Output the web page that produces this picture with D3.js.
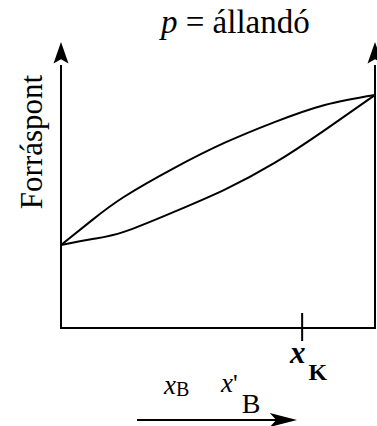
<!DOCTYPE html>
<html>
<head>
<meta charset="utf-8">
<script src="https://cdn.jsdelivr.net/npm/d3@7"></script>
</head>
<body style="margin:0;background:#fff">
<svg id="chart" width="377" height="426"></svg>
<script>
// Composition (mole fraction of B) and boiling-point values (arbitrary units)
const composition = [0, 0.1, 0.2, 0.36, 0.52, 0.68, 0.84, 1];
const vaporCurve  = [29.0, 37.8, 45.8, 55.9, 64.7, 72.0, 78.0, 81.5];  // upper (dew) curve
const liquidCurve = [29.0, 31.1, 33.6, 40.6, 48.3, 57.7, 69.2, 81.5];  // lower (bubble) curve
const xKValue = 0.768;
const titleText = "állandó";
const yLabel = "Forráspont";

const svg = d3.select("#chart");
const x = d3.scaleLinear().domain([0, 1]).range([61, 375]);
const y = d3.scaleLinear().domain([0, 100]).range([328, 42]);

const g = svg.append("g");

// axes frame: bottom line, left & right verticals
g.append("line").attr("x1", x(0)).attr("x2", x(1)).attr("y1", y(0)).attr("y2", y(0))
  .attr("stroke", "#000").attr("stroke-width", 2);
[0, 1].forEach(v => {
  g.append("line").attr("x1", x(v)).attr("x2", x(v)).attr("y1", y(0) + 1).attr("y2", y(92))
    .attr("stroke", "#000").attr("stroke-width", 2);
  g.append("path")
    .attr("d", `M${x(v)},${y(100)} L${x(v) - 7.5},${y(92.5)} L${x(v)},${y(94)} L${x(v) + 7.5},${y(92.5)} Z`)
    .attr("fill", "#000");
});

// tick for x_K
g.append("line").attr("x1", x(xKValue)).attr("x2", x(xKValue))
  .attr("y1", y(0) - 15).attr("y2", y(0) + 13).attr("stroke", "#000").attr("stroke-width", 2);

// curves
const line = d3.line().x(d => x(d[0])).y(d => y(d[1])).curve(d3.curveNatural);
[vaporCurve, liquidCurve].forEach(series => {
  g.append("path").datum(composition.map((c, i) => [c, series[i]]))
    .attr("d", line).attr("fill", "none").attr("stroke", "#000").attr("stroke-width", 2);
});

function txt() {
  return svg.append("text").attr("font-family", "Liberation Serif")
    .style("font-family", "Liberation Serif").attr("fill", "#000");
}

// title
const t = txt().attr("x", 161).attr("y", 33).attr("font-size", 33);
t.append("tspan").attr("font-style", "italic").text("p");
t.append("tspan").text(" = " + titleText);

// y label
txt().attr("transform", "translate(42,142) rotate(-90)")
  .attr("text-anchor", "middle").attr("font-size", 31).text(yLabel);

// x_K label
const xk = txt().attr("x", 290).attr("y", 363).attr("font-weight", "bold");
xk.append("tspan").attr("font-style", "italic").attr("font-size", 31).text("x");
xk.append("tspan").attr("font-size", 24).attr("dy", 17).attr("dx", 3).text("K");

// x_B label
const xb = txt().attr("x", 164).attr("y", 394);
xb.append("tspan").attr("font-style", "italic").attr("font-size", 27).text("x");
xb.append("tspan").attr("font-size", 20).attr("dy", 2).text("B");

// x'_B label
const xb2 = txt().attr("x", 221).attr("y", 392);
xb2.append("tspan").attr("font-style", "italic").attr("font-size", 27).text("x");
xb2.append("tspan").attr("font-size", 26).text("'");
xb2.append("tspan").attr("font-size", 28).attr("dy", 21).attr("dx", 4).text("B");

// bottom direction arrow
const ax = d3.scaleLinear().domain([0, 1]).range([137, 297]);
svg.append("line").attr("x1", ax(0)).attr("x2", ax(0.9)).attr("y1", 420).attr("y2", 420)
  .attr("stroke", "#000").attr("stroke-width", 2);
svg.append("path")
  .attr("d", `M${ax(1)},420 L${ax(0.83)},413 L${ax(0.87)},420 L${ax(0.83)},427 Z`)
  .attr("fill", "#000");
</script>
</body>
</html>
